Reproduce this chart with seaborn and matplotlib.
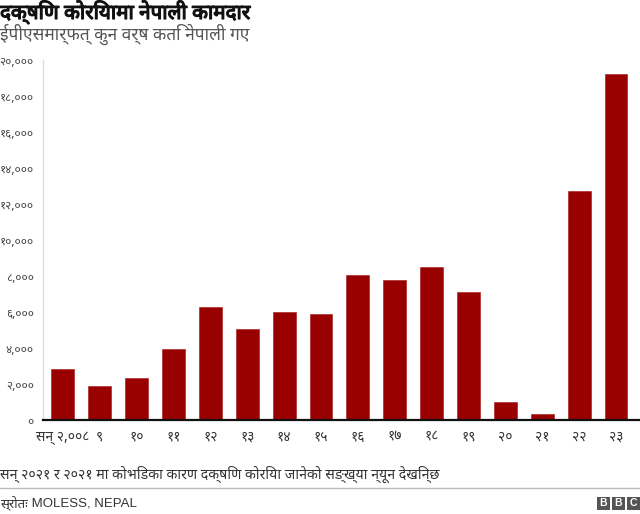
import matplotlib
matplotlib.use("Agg")
import matplotlib.pyplot as plt
from matplotlib.lines import Line2D
from matplotlib import font_manager
from matplotlib.ft2font import FT2Font
import matplotlib.patheffects as pe
import seaborn as sns
import pandas as pd

# ---------------- data ----------------
year_labels = ["सन् २,००८", "९", "१०", "११", "१२", "१३", "१४", "१५",
               "१६", "१७", "१८", "१९", "२०", "२१", "२२", "२३"]
workers = [2820, 1910, 2340, 3950, 6300, 5045, 6010, 5880,
           8050, 7790, 8495, 7100, 1000, 335, 12720, 19230]
y_ticks = [0, 2000, 4000, 6000, 8000, 10000, 12000, 14000, 16000, 18000, 20000]
y_tick_labels = ["०", "२,०००", "४,०००", "६,०००", "८,०००", "१०,०००",
                 "१२,०००", "१४,०००", "१६,०००", "१८,०००", "२०,०००"]

title = "दक्षिण कोरियामा नेपाली कामदार"
subtitle = "ईपीएसमार्फत् कुन वर्ष कति नेपाली गए"
note = "सन् २०२१ र २०२१ मा कोभिडका कारण दक्षिण कोरिया जानेको सङ्ख्या न्यून देखिन्छ"
source_label = "स्रोतः"
source_text = " MOLESS, NEPAL"

# ---------------- fonts ----------------
def devanagari_font():
    info = {}
    for f in font_manager.fontManager.ttflist:
        try:
            if 0x0915 in FT2Font(f.fname).get_charmap():
                info.setdefault(f.name, []).append(f.weight)
        except Exception:
            pass
    for pref in ["Noto Sans Devanagari", "Mukta", "Hind", "Lohit Devanagari",
                 "Poppins", "Annapurna SIL", "FreeSans"]:
        if pref in info:
            ws = info[pref]
            has_bold = any((w if isinstance(w, int) else 400) >= 600 or
                           str(w) in ("bold", "semibold", "heavy", "black")
                           for w in ws)
            return [pref], has_bold
    return [], False

sns.set_theme(style="white")
deva, deva_bold = devanagari_font()
plt.rcParams["font.family"] = deva + ["Liberation Sans", "DejaVu Sans"]

df = pd.DataFrame({"year": year_labels, "workers": workers})

W, H = 640, 514
fig = plt.figure(figsize=(6.4, 5.14), dpi=100)
ax = fig.add_axes([43 / W, 1 - 420 / H, 1 - 43 / W, (420 - 60) / H])

sns.barplot(data=df, x="year", y="workers", order=year_labels, color="#990000",
            saturation=1, width=0.62, ax=ax, edgecolor="#a31515", linewidth=0.4)

ax.set_xlim(-0.54, 15.65)
ax.set_ylim(0, 20000)
ax.set_yticks(y_ticks)
ax.set_yticklabels(y_tick_labels, fontsize=8.5, color="#444444")
ax.set_xticks(range(len(year_labels)))
ax.set_xticklabels(year_labels, fontsize=10, color="#333333")
ax.set_xlabel("")
ax.set_ylabel("")
ax.tick_params(axis="y", length=3, color="#dddddd", pad=3.5)
ax.tick_params(axis="x", length=0, pad=7)

for s in ["top", "right"]:
    ax.spines[s].set_visible(False)
ax.spines["left"].set_color("#dddddd")
ax.spines["left"].set_linewidth(1)
ax.spines["bottom"].set_color("#111111")
ax.spines["bottom"].set_linewidth(1.6)

# titles
tt = fig.text(0.0, 1 - 12 / H, title, fontsize=14.8, fontweight="bold",
              color="#111111", va="center", ha="left")
if not deva_bold:
    tt.set_path_effects([pe.withStroke(linewidth=0.9, foreground="#111111")])
fig.text(0.0, 1 - 34 / H, subtitle, fontsize=12.5, color="#555555",
         va="center", ha="left")

# footnote
fig.text(0.0, 1 - 474 / H, note, fontsize=10.2, color="#333333",
         va="center", ha="left")
fig.add_artist(Line2D([0, 1], [1 - 488 / H, 1 - 488 / H],
                      transform=fig.transFigure, color="#bbbbbb", lw=1))
t = fig.text(0.0, 1 - 503 / H, source_label, fontsize=9.5, color="#333333",
             va="center", ha="left")
fig.canvas.draw()
bb = t.get_window_extent()
fig.text(bb.x1 / W, 1 - 503 / H, source_text, fontsize=9.5, color="#333333",
         va="center", ha="left", family=["Liberation Sans", "DejaVu Sans"])

# BBC blocks
for i, ch in enumerate("BBC"):
    x0 = 597 + i * 15
    fig.patches.append(plt.Rectangle((x0 / W, 1 - 510 / H), 13 / W, 13 / H,
                                     transform=fig.transFigure,
                                     facecolor="#555555", edgecolor="none"))
    fig.text((x0 + 6.5) / W, 1 - 503.5 / H, ch, fontsize=7.5, fontweight="bold",
             color="white", ha="center", va="center",
             family=["Liberation Sans", "DejaVu Sans"])

fig.savefig("out.png", dpi=100)
